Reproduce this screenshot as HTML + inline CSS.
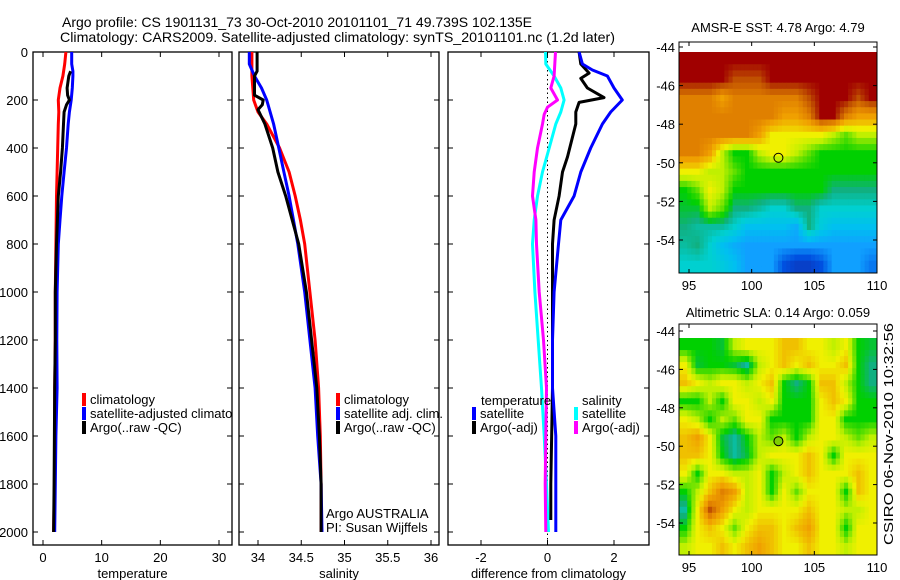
<!DOCTYPE html>
<html><head><meta charset="utf-8"><style>
html,body{margin:0;padding:0;background:#fff;}
svg{display:block;font-family:"Liberation Sans",sans-serif;}
</style></head><body>
<svg id="fig" width="900" height="580" viewBox="0 0 900 580">
<defs><clipPath id="clipP1"><rect x="33" y="52" width="199" height="493"/></clipPath></defs>
</svg>
<script>
// ---------- data ----------
const tempClimDepth=[0,50,100,150,200,250,300,400,500,600,800,1000,1200,1400,1600,1800,2000];
const tempClimVal=[3.9,3.7,3.4,2.9,2.6,2.7,2.6,2.5,2.4,2.3,2.2,2.1,2.1,2.0,2.0,1.95,1.8];
const tempSatDepth=[0,50,80,100,150,200,250,300,400,500,600,700,800,1000,1200,1400,1600,1800,2000];
const tempSatVal=[4.9,4.9,5.1,5.1,5.0,4.8,4.5,4.3,4.0,3.6,3.2,2.9,2.6,2.4,2.35,2.4,2.2,2.1,2.0];
const tempArgoDepth=[80,100,150,180,200,220,250,300,400,500,600,800,1000,1200,1400,1600,1800,2000];
const tempArgoVal=[4.7,4.4,4.1,4.2,4.5,4.0,3.6,3.5,3.3,3.0,2.6,2.3,2.1,2.1,2.0,1.95,1.9,1.8];

const salClimDepth=[0,100,200,250,300,400,500,600,700,800,1000,1200,1400,1600,1800,2000];
const salClimVal=[33.93,33.93,33.95,34.0,34.1,34.25,34.36,34.43,34.49,34.54,34.6,34.66,34.7,34.72,34.73,34.73];
const salSatDepth=[0,50,100,150,200,300,400,500,600,800,1000,1200,1400,1600,1800,2000];
const salSatVal=[33.9,33.9,33.96,34.04,34.1,34.18,34.24,34.3,34.36,34.46,34.54,34.6,34.66,34.69,34.73,34.74];
const salArgoDepth=[0,80,100,180,200,220,240,300,400,500,600,800,1000,1200,1400,1600,1800,2000];
const salArgoVal=[33.99,33.99,33.96,33.96,34.06,34.05,34.0,34.08,34.17,34.23,34.32,34.47,34.56,34.62,34.68,34.71,34.73,34.73];

const dSalSatDepth=[0,50,100,150,200,250,300,400,500,600,700,800,1000,1200,1400,1600,1800,2000];
const dSalSatVal=[-0.06,-0.05,0.2,0.4,0.5,0.4,0.25,0.05,-0.15,-0.3,-0.4,-0.45,-0.38,-0.28,-0.18,-0.1,-0.03,0.03];
const dSalArgoDepth=[0,100,150,200,230,260,300,400,500,600,700,800,1000,1200,1400,1600,1800,2000];
const dSalArgoVal=[0.24,0.2,0.1,0.3,0.0,-0.1,-0.15,-0.3,-0.4,-0.45,-0.35,-0.33,-0.25,-0.12,-0.03,-0.05,-0.07,-0.05];
const dTempArgoDepth=[0,50,88,110,150,190,210,250,300,437,500,600,700,800,1000,1400,1800,1950];
const dTempArgoVal=[0.95,1.0,1.25,1.0,1.2,1.7,0.95,0.85,0.85,0.6,0.45,0.35,0.2,0.15,0.15,0.15,0.1,0.1];
const dTempSatDepth=[0,50,75,100,150,200,250,300,400,500,600,700,800,1000,1200,1400,1600,2000];
const dTempSatVal=[0.95,1.05,1.35,1.8,2.0,2.25,1.9,1.65,1.3,1.0,0.8,0.4,0.33,0.2,0.15,0.15,0.25,0.25];

const depthTicks=[0,200,400,600,800,1000,1200,1400,1600,1800,2000];
const tempTicks=[0,10,20,30];
const salTicks=[34,34.5,35,35.5,36];
const salTickLabels=["34","34.5","35","35.5","36"];
const diffTicks=[-2,0,2];
const lonTicks=[95,100,105,110];
const latTicks=[-44,-46,-48,-50,-52,-54];

const sstGrid=[
[9,9,9,9,9,9,9,9,9,9,9,9,9,9,9,9],
[9,9,9,9,8.5,8.5,8.5,9,9,9,9,9,9,9,9,9],
[8,8,8,7.5,8,8,8,8,8,8,8.5,9,9,9,8.5,9],
[8,8,8,8,8,8,8,8,7.5,7.5,8,9,9,8,7.5,7.5],
[8,8,8,8,8,8,7.5,6.5,6.5,6.5,6.5,6.5,6,5.5,6,6],
[8,8,7.5,6,5,5,6,6.5,6.5,6,5.5,5,5,5,5,5],
[6.5,6.5,6,6,5.5,5,5,5,5,5,5,5,5,5,5,5],
[5,5.5,6.5,6,5,5,5,5,5,5,5,5,4.5,4.5,4.5,4.5],
[4.8,4.8,6,5.5,4.5,4.5,4.3,4,4,4.5,4.5,4,4,4,4,4],
[4.5,4.3,4.3,4.3,4,3.5,3.5,3.5,3.5,3.2,4.5,3.8,3.5,3.5,3.5,3.5],
[4.3,4.5,4,3.5,3.2,3,3,3,3,3,3,3,3,3,3,3],
[4,4,4,3.8,3.5,3,3,3,2,1.5,1.5,2,3,3,3,2.5]];
const slaGrid=[
[5,5,5,4.8,6,6.5,6.5,6.5,7,7,6.5,6.5,6,6.5,5,4.8],
[6.5,4.8,5,5,4.8,4.3,6,6.5,7,6.5,7,6.5,6.5,7,5,4.5],
[7,6.5,6,6.5,6.5,6,6.5,7,5,4.5,5,7,7,6,5,4.5],
[5,5,6,5,6.5,6.5,6,6.5,5,5,5,6.5,7,6.5,5,5],
[6.5,6,5,6,5.5,6.5,6.5,5,5,5,5,6.5,6.5,5,5,5],
[7,7.5,6.5,4.8,4.3,5,6,5.5,6,5,6,6.5,6.5,6,5.5,6],
[7,7,6.5,5,4.3,4.8,6,6.5,6.5,6.5,7,6.5,5,6.5,6.5,6.5],
[6.5,5,6.5,6.5,6,6,6.5,5,6,6.5,7,6.5,6.5,6.5,7,6.5],
[5,6,7,8,7.5,6,6.5,5,6.5,5.5,6.5,6.5,6.5,5,7,6.5],
[4.3,6.5,8.5,7.5,6.5,6,6.5,6.5,6.5,6.5,7,6.5,6.5,6,6,6.5],
[5,6.5,7,6.5,5.5,6.5,7,7,6.5,7,7.5,6.5,6.5,5,6.5,6.5],
[6,6.5,6.5,7,6.5,7,7.5,7,6.5,6.5,7,6.5,6.5,6,6.5,6.5]];
const argoLon=[102.135];
const argoLat=[-49.739];

// ---------- helpers ----------
const NS="http://www.w3.org/2000/svg";
const svg=document.getElementById('fig');
function mk(tag,attrs,parent){const e=document.createElementNS(NS,tag);for(const k in attrs)e.setAttribute(k,attrs[k]);(parent||svg).appendChild(e);return e;}
function txt(x,y,s,opt,parent){const t=mk('text',Object.assign({x:x,y:y,'font-size':13,fill:'#000'},opt||{}),parent);t.textContent=s;return t;}
function lin(d0,d1,r0,r1){return v=>r0+(v-d0)*(r1-r0)/(d1-d0);}

const Y0=52,Y1=545;
const yDepth=lin(0,2000,52,532);

function panel(name,x0,x1,xs,ticks,labels,xlabel){
  const g=mk('g',{});
  
  
  mk('rect',{x:x0,y:Y0,width:x1-x0,height:Y1-Y0,fill:'none',stroke:'#000','stroke-width':1.3},g);
  ticks.forEach((t,i)=>{const x=xs(t);
    mk('line',{x1:x,y1:Y0,x2:x,y2:Y0+5,stroke:'#000'},g);
    mk('line',{x1:x,y1:Y1,x2:x,y2:Y1-5,stroke:'#000'},g);
    const l=txt(x,562,labels[i],{'text-anchor':'middle'},g);
    
    
  });
  depthTicks.forEach(d=>{const y=yDepth(d);
    mk('line',{x1:x0,y1:y,x2:x0+5,y2:y,stroke:'#000'},g);
    mk('line',{x1:x1,y1:y,x2:x1-5,y2:y,stroke:'#000'},g);
  });
  const xl=txt((x0+x1)/2,578,xlabel,{'text-anchor':'middle'},g);
  
  
  return g;
}
function series(g,name,xs,depths,vals,color,x0,x1){
  const pts=[];
  for(let i=0;i<depths.length;i++){
    const x=Math.max(x0,Math.min(x1,xs(vals[i])));const y=yDepth(depths[i]);
    pts.push(x.toFixed(1)+','+y.toFixed(1));
  }
  const p=mk('polyline',{points:pts.join(' '),fill:'none',stroke:color,'stroke-width':3,'stroke-linejoin':'round'},g);
  
  
}
function legendEntry(g,x,y,color,label,name){
  mk('rect',{x:x,y:y-11,width:4,height:13,fill:color},g);
  const t=txt(x+8,y,label,{},g);
  
  
}

// ---------- titles ----------
const t1=txt(62,27,"Argo profile: CS 1901131_73 30-Oct-2010 20101101_71 49.739S 102.135E",{textLength:470,lengthAdjust:'spacingAndGlyphs','font-size':14});


const t2=txt(60,42,"Climatology: CARS2009. Satellite-adjusted climatology: synTS_20101101.nc (1.2d later)",{textLength:555,lengthAdjust:'spacingAndGlyphs','font-size':14});



depthTicks.forEach(d=>{const l=txt(28,yDepth(d)+5,String(d),{'text-anchor':'end'});
  
  });

// ---------- temperature panel ----------
const xT=lin(0,30,43,219);
const g1=panel('temperature-panel',33,232,xT,tempTicks,tempTicks.map(String),'temperature');
series(g1,'temp-climatology-line',xT,tempClimDepth,tempClimVal,'#f00',33,232);
series(g1,'temp-satellite-line',xT,tempSatDepth,tempSatVal,'#00f',33,232);
series(g1,'temp-argo-line',xT,tempArgoDepth,tempArgoVal,'#000',33,232);
const lg1=mk('g',{'clip-path':'url(#clipP1)'},g1);


legendEntry(lg1,82,404,'#f00','climatology','legend-climatology');
legendEntry(lg1,82,418,'#00f','satellite-adjusted climatology','legend-satellite-adjusted');
legendEntry(lg1,82,432,'#000','Argo(..raw -QC)','legend-argo-raw');

// ---------- salinity panel ----------
const xS=lin(34,36,258,431);
const g2=panel('salinity-panel',239,439,xS,salTicks,salTickLabels,'salinity');
series(g2,'sal-climatology-line',xS,salClimDepth,salClimVal,'#f00',239,439);
series(g2,'sal-satellite-line',xS,salSatDepth,salSatVal,'#00f',239,439);
series(g2,'sal-argo-line',xS,salArgoDepth,salArgoVal,'#000',239,439);
legendEntry(g2,336,404,'#f00','climatology','legend-sal-climatology');
legendEntry(g2,336,418,'#00f','satellite adj. clim.','legend-sal-satellite');
legendEntry(g2,336,432,'#000','Argo(..raw -QC)','legend-sal-argo');
const a1=txt(326,518,"Argo AUSTRALIA",{},g2);


const a2=txt(326,532,"PI: Susan Wijffels",{},g2);



// ---------- difference panel ----------
const xD=lin(-2,2,481,614);
const g3=panel('difference-panel',448,649,xD,diffTicks,diffTicks.map(String),'difference from climatology');
mk('line',{x1:xD(0),y1:Y0,x2:xD(0),y2:Y1,stroke:'#000','stroke-dasharray':'1.5,3'},g3);
series(g3,'dsal-satellite-line',xD,dSalSatDepth,dSalSatVal,'#0ff',448,649);
series(g3,'dsal-argo-line',xD,dSalArgoDepth,dSalArgoVal,'#f0f',448,649);
series(g3,'dtemp-argo-line',xD,dTempArgoDepth,dTempArgoVal,'#000',448,649);
series(g3,'dtemp-satellite-line',xD,dTempSatDepth,dTempSatVal,'#00f',448,649);
const lt=txt(481,405,"temperature",{},g3);
const ls=txt(582,405,"salinity",{},g3);
legendEntry(g3,472,418,'#00f','satellite','legend-dtemp-satellite');
legendEntry(g3,472,432,'#000','Argo(-adj)','legend-dtemp-argo');
legendEntry(g3,574,418,'#0ff','satellite','legend-dsal-satellite');
legendEntry(g3,574,432,'#f0f','Argo(-adj)','legend-dsal-argo');

// ---------- maps ----------
const cStops=[[1,[16,48,176]],[2,[0,80,224]],[3,[16,160,255]],[3.5,[0,192,240]],[4,[0,208,208]],[4.5,[16,176,128]],[5,[0,208,0]],[5.5,[96,224,0]],[6,[192,240,0]],[6.5,[240,240,0]],[7,[240,192,0]],[7.5,[240,160,0]],[8,[224,128,0]],[8.5,[192,80,0]],[9,[160,0,0]]];
function cmap(v){
  if(v<=cStops[0][0])return 'rgb('+cStops[0][1]+')';
  for(let i=1;i<cStops.length;i++){if(v<=cStops[i][0]){const a=cStops[i-1],b=cStops[i];const f=(v-a[0])/(b[0]-a[0]);
    return 'rgb('+a[1].map((c,k)=>Math.round(c+(b[1][k]-c)*f)).join(',')+')';}}
  return 'rgb('+cStops[cStops.length-1][1]+')';
}
function sample(grid,r,c){
  const nr=grid.length,nc=grid[0].length;
  const rr=Math.max(0,Math.min(nr-1,r-0.5)),cc=Math.max(0,Math.min(nc-1,c-0.5));
  const r0=Math.floor(rr),c0=Math.floor(cc),r1=Math.min(nr-1,r0+1),c1=Math.min(nc-1,c0+1);
  const fr=rr-r0,fc=cc-c0;
  return grid[r0][c0]*(1-fr)*(1-fc)+grid[r0][c1]*(1-fr)*fc+grid[r1][c0]*fr*(1-fc)+grid[r1][c1]*fr*fc;
}
function drawMap(name,grid,x0,x1,yT,yB,lat44y,pxPerDeg,title,titleY,circleFill){
  const g=mk('g',{});
  
  
  const xL=lin(95,110,689,877);
  const yL=v=>lat44y+(-44-v)*pxPerDeg;
  const lonMin=94.2,lonMax=110;const latTop=-44-(lat44y-yT)/pxPerDeg;const latBot=-44-(yB-lat44y)/pxPerDeg;
  const nr=grid.length,nc=grid[0].length,sub=3;
  const dLon=(lonMax-lonMin)/(nc*sub),dLat=(latTop-latBot)/(nr*sub);
  for(let r=0;r<nr*sub;r++)for(let c=0;c<nc*sub;c++){
    const v=sample(grid,(r+0.5)/sub,(c+0.5)/sub);
    const xa=xL(lonMin+c*dLon),xb=xL(lonMin+(c+1)*dLon);
    const ya=yL(latTop-r*dLat),yb=yL(latTop-(r+1)*dLat);
    const cell=mk('rect',{x:xa.toFixed(2),y:ya.toFixed(2),width:(xb-xa+0.5).toFixed(2),height:(yb-ya+0.5).toFixed(2),fill:cmap(v)},g);
    
    
  }
  mk('rect',{x:x0,y:yT,width:x1-x0,height:yB-yT,fill:'none',stroke:'#000','stroke-width':1},g);
  lonTicks.forEach(t=>{const x=xL(t);
    mk('line',{x1:x,y1:yT,x2:x,y2:yT+4,stroke:'#000'},g);
    mk('line',{x1:x,y1:yB,x2:x,y2:yB-4,stroke:'#000'},g);
    const l=txt(x,yB+17,String(t),{'text-anchor':'middle'},g);
    
    });
  latTicks.forEach(t=>{const y=yL(t);
    mk('line',{x1:x0,y1:y,x2:x0+4,y2:y,stroke:'#000'},g);
    mk('line',{x1:x1,y1:y,x2:x1-4,y2:y,stroke:'#000'},g);
    const l=txt(x0-4,y+5,String(t),{'text-anchor':'end'},g);
    
    });
  const c=mk('circle',{cx:xL(argoLon[0]),cy:yL(argoLat[0]),r:4.5,fill:circleFill,stroke:'#000','stroke-width':1},g);
  
  
  const tt=txt((x0+x1)/2,titleY,title,{'text-anchor':'middle'},g);
  
  
}
drawMap('sst-map',sstGrid,679,877,42,273,47,19.3,'AMSR-E SST: 4.78 Argo: 4.79',32,'none');
drawMap('sla-map',slaGrid,679,877,324,555,331,19.2,'Altimetric SLA: 0.14 Argo: 0.059',317,'#7fd000');

const vt=txt(0,0,'CSIRO 06-Nov-2010 10:32:56',{transform:'translate(893,545) rotate(-90)',textLength:222,lengthAdjust:'spacingAndGlyphs'});


</script>
</body></html>
